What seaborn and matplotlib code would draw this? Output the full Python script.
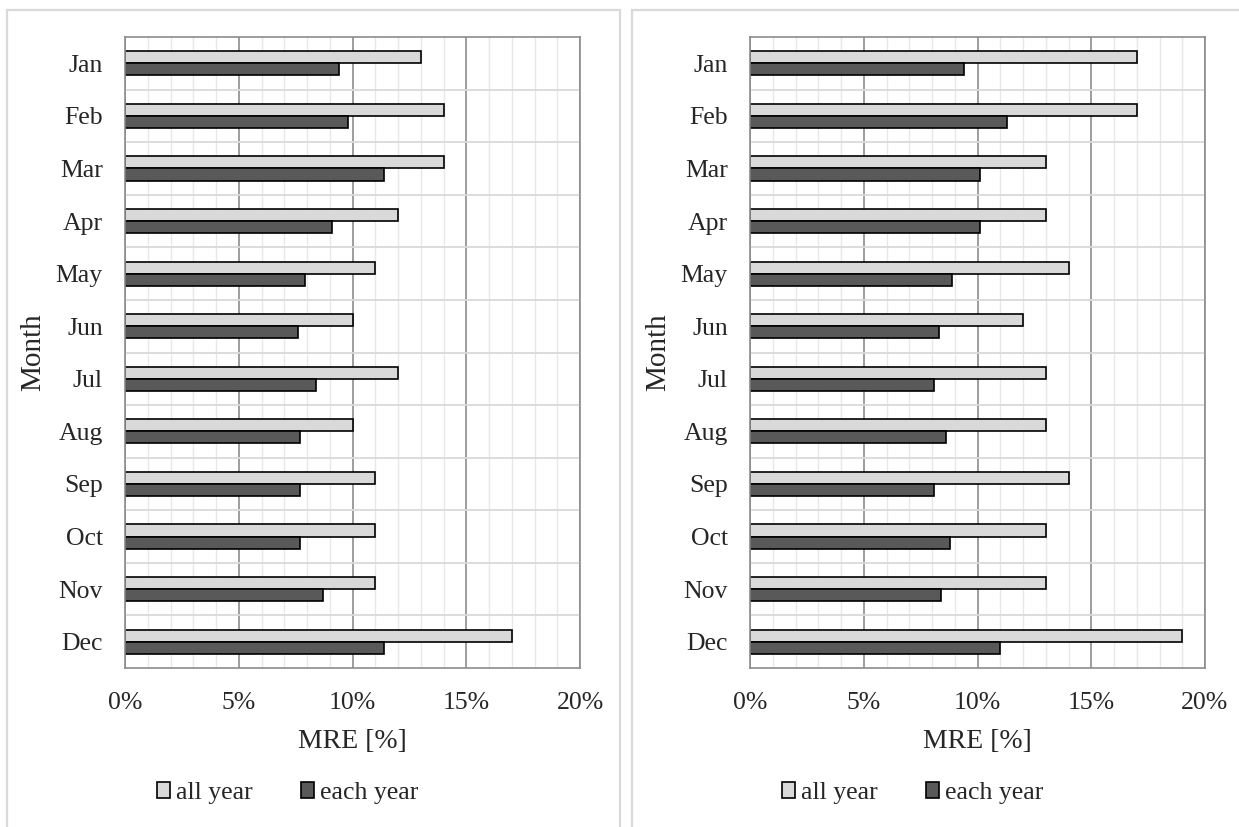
import matplotlib
matplotlib.use("Agg")
import matplotlib.pyplot as plt
from matplotlib.patches import Patch, Rectangle
from matplotlib.ticker import MultipleLocator, FixedLocator, FuncFormatter
import seaborn as sns
import pandas as pd

# ---------------- data ----------------
months = ["Jan", "Feb", "Mar", "Apr", "May", "Jun",
          "Jul", "Aug", "Sep", "Oct", "Nov", "Dec"]
series_names = ["all year", "each year"]

left_all_year = [13, 14, 14, 12, 11, 10, 12, 10, 11, 11, 11, 17]
left_each_year = [9.4, 9.8, 11.4, 9.1, 7.9, 7.6, 8.4, 7.7, 7.7, 7.7, 8.7, 11.4]

right_all_year = [17, 17, 13, 13, 14, 12, 13, 13, 14, 13, 13, 19]
right_each_year = [9.4, 11.3, 10.1, 10.1, 8.9, 8.3, 8.1, 8.6, 8.1, 8.8, 8.4, 11.0]

x_ticks = [0, 5, 10, 15, 20]
x_label = "MRE [%]"
y_label = "Month"

# ---------------- style ----------------
sns.set_style("white")
plt.rcParams["font.family"] = ["Liberation Serif", "DejaVu Serif"]

FILL_ALL = "#d9d9d9"
FILL_EACH = "#595959"
MAJOR_GRID = "#8c8c8c"
MINOR_GRID = "#e8e8e8"
FRAME = "#d9d9d9"

W, H = 1239, 827
fig = plt.figure(figsize=(W / 100, H / 100), dpi=100)


def make_df(all_vals, each_vals):
    return pd.DataFrame({
        "Month": months * 2,
        "MRE": list(all_vals) + list(each_vals),
        "Series": [series_names[0]] * len(months) + [series_names[1]] * len(months),
    })


panels = [
    (make_df(left_all_year, left_each_year), 125, 7, 620, 33),
    (make_df(right_all_year, right_each_year), 750, 632, 1260, 658),
]

ax_top, ax_bot = 37, 668
ax_w = 455

for i, (df, x0, fx0, fx1, ylab_x) in enumerate(panels):
    # outer light frame
    fig.add_artist(Rectangle((fx0 / W, -0.05), (fx1 - fx0) / W, 1 - 10 / H + 0.05,
                             transform=fig.transFigure, fill=False,
                             edgecolor=FRAME, linewidth=1.6, clip_on=False))

    ax = fig.add_axes([x0 / W, 1 - ax_bot / H, ax_w / W, (ax_bot - ax_top) / H])
    sns.barplot(data=df, y="Month", x="MRE", hue="Series", orient="h",
                order=months, hue_order=series_names,
                palette=[FILL_ALL, FILL_EACH], edgecolor="black",
                linewidth=1.2, width=0.46, ax=ax, legend=False)

    ax.set_xlim(0, 20)
    ax.set_ylim(len(months) - 0.5, -0.5)
    ax.xaxis.set_major_locator(FixedLocator(x_ticks))
    ax.xaxis.set_minor_locator(MultipleLocator(1))
    ax.xaxis.set_major_formatter(FuncFormatter(lambda v, p: f"{v:.0f}%"))
    ax.yaxis.set_minor_locator(FixedLocator([k + 0.5 for k in range(len(months) - 1)]))

    ax.set_axisbelow(True)
    ax.grid(which="major", axis="x", color=MAJOR_GRID, linewidth=1.2)
    ax.grid(which="minor", axis="x", color=MINOR_GRID, linewidth=1.0)
    ax.grid(which="minor", axis="y", color="#d9d9d9", linewidth=1.3)
    ax.grid(which="major", axis="y", visible=False)

    for sp in ax.spines.values():
        sp.set_visible(True)
        sp.set_color(MAJOR_GRID)
        sp.set_linewidth(1.2)

    ax.tick_params(axis="both", which="both", length=0)
    ax.tick_params(axis="y", labelsize=18.5, pad=16)
    ax.tick_params(axis="x", labelsize=18.5, pad=17)

    ax.set_xlabel(x_label, fontsize=20)
    ax.set_ylabel(y_label, fontsize=21)
    ax.xaxis.set_label_coords(0.5, (ax_bot - 742) / (ax_bot - ax_top))
    ax.xaxis.label.set_verticalalignment("center")
    ax.yaxis.set_label_coords((ylab_x - x0) / ax_w, 0.5)
    ax.yaxis.label.set_verticalalignment("center")

    handles = [Patch(facecolor=FILL_ALL, edgecolor="black", linewidth=1.2, label=series_names[0]),
               Patch(facecolor=FILL_EACH, edgecolor="black", linewidth=1.2, label=series_names[1])]
    lx = (287.5 + (x0 - 125)) / W
    fig.legend(handles=handles, loc="center", bbox_to_anchor=(lx, 1 - 793 / H),
               ncol=2, frameon=False, fontsize=18.5, handlelength=0.52,
               handleheight=0.55, handletextpad=0.2, columnspacing=1.9,
               borderpad=0, borderaxespad=0)

fig.savefig("out.png", dpi=100)
